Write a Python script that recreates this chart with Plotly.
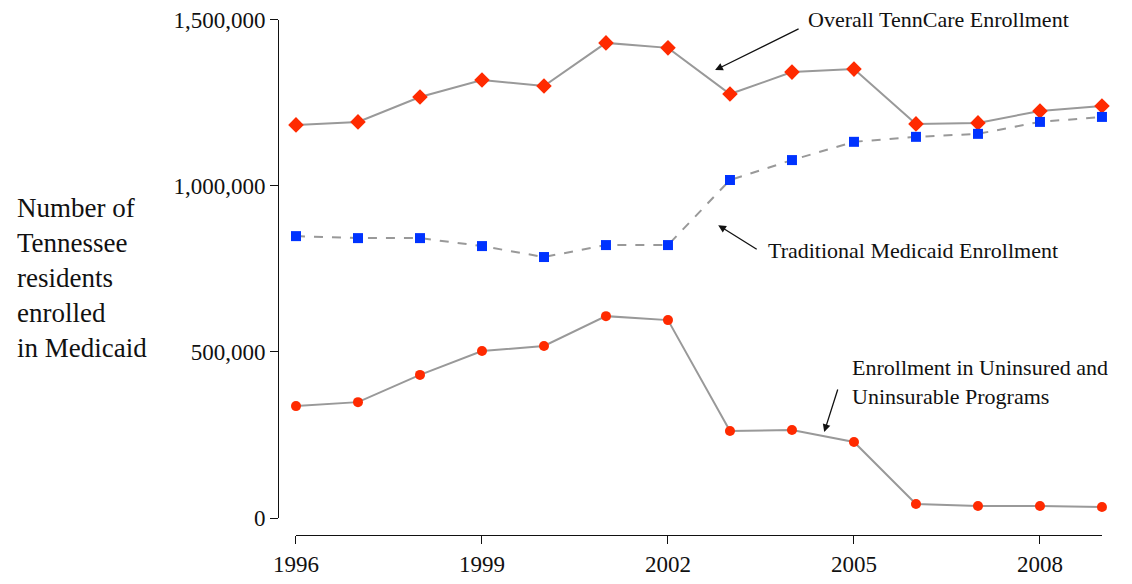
import plotly.graph_objects as go

years = list(range(1996, 2010))
overall = [1184000, 1193000, 1268000, 1319000, 1301000, 1431000, 1416000, 1277000, 1343000, 1352000, 1187000, 1190000, 1226000, 1241000]
medicaid = [849000, 843000, 843000, 819000, 786000, 822000, 822000, 1018000, 1078000, 1133000, 1148000, 1157000, 1193000, 1208000]
uninsured = [337000, 349000, 431000, 503000, 518000, 608000, 596000, 262000, 265000, 229000, 42000, 36000, 36000, 33000]

RED = "#FF2A00"; BLUE = "#0033FF"; GRAY = "#999999"
F = "Liberation Serif"

fig = go.Figure()
fig.add_trace(go.Scatter(x=years, y=overall, mode="lines+markers", cliponaxis=False,
    line=dict(color=GRAY, width=2), marker=dict(symbol="diamond", color=RED, size=12)))
fig.add_trace(go.Scatter(x=years, y=medicaid, mode="lines+markers", cliponaxis=False,
    line=dict(color=GRAY, width=2, dash="dash"), marker=dict(symbol="square", color=BLUE, size=10)))
fig.add_trace(go.Scatter(x=years, y=uninsured, mode="lines+markers", cliponaxis=False,
    line=dict(color=GRAY, width=2), marker=dict(symbol="circle", color=RED, size=10)))

fig.update_layout(
    width=1132, height=584, showlegend=False,
    margin=dict(l=0, r=0, t=0, b=0, autoexpand=False),
    plot_bgcolor="white", paper_bgcolor="white",
    font=dict(family=F, size=23, color="#111"),
    xaxis=dict(domain=[0.2544, 0.9664], range=[1996, 2009], anchor="free", position=0.0976, automargin=False,
               tickvals=[1996, 1999, 2002, 2005, 2008], showgrid=False, zeroline=False,
               showline=True, linecolor="#111", ticks="outside", ticklen=8, tickcolor="#111"),
    yaxis=dict(domain=[0.1267, 0.9795], range=[0, 1500000], anchor="free", position=0.2385, automargin=False,
               tickvals=[0, 500000, 1000000, 1500000], tickformat=",d", showgrid=False, zeroline=False,
               showline=True, linecolor="#111", ticks="outside", ticklen=8, tickcolor="#111"),
)

fig.add_annotation(xref="paper", yref="paper", x=0.006, y=0.538, xanchor="left", yanchor="middle",
    text="Number of<br>Tennessee<br>residents<br>enrolled<br>in Medicaid", showarrow=False, align="left",
    font=dict(size=27, family=F))

def label(x, y, ax, ay, tx, ty, text):
    fig.add_annotation(x=x, y=y, ax=ax, ay=ay, text="", showarrow=True, arrowhead=2,
        arrowsize=1.2, arrowwidth=1.3, arrowcolor="#111")
    fig.add_annotation(x=tx, y=ty, text=text, showarrow=False, xanchor="left", yanchor="middle",
        align="left", font=dict(size=22, family=F))

label(2002.76, 1349000, 85, -42, 2004.23, 1500000, "Overall TennCare Enrollment")
label(2002.81, 882000, 40, 25, 2003.58, 807000, "Traditional Medicaid Enrollment")
label(2004.52, 259000, 14, -44, 2004.94, 410000, "Enrollment in Uninsured and<br>Uninsurable Programs")

fig.write_html("out.html")
